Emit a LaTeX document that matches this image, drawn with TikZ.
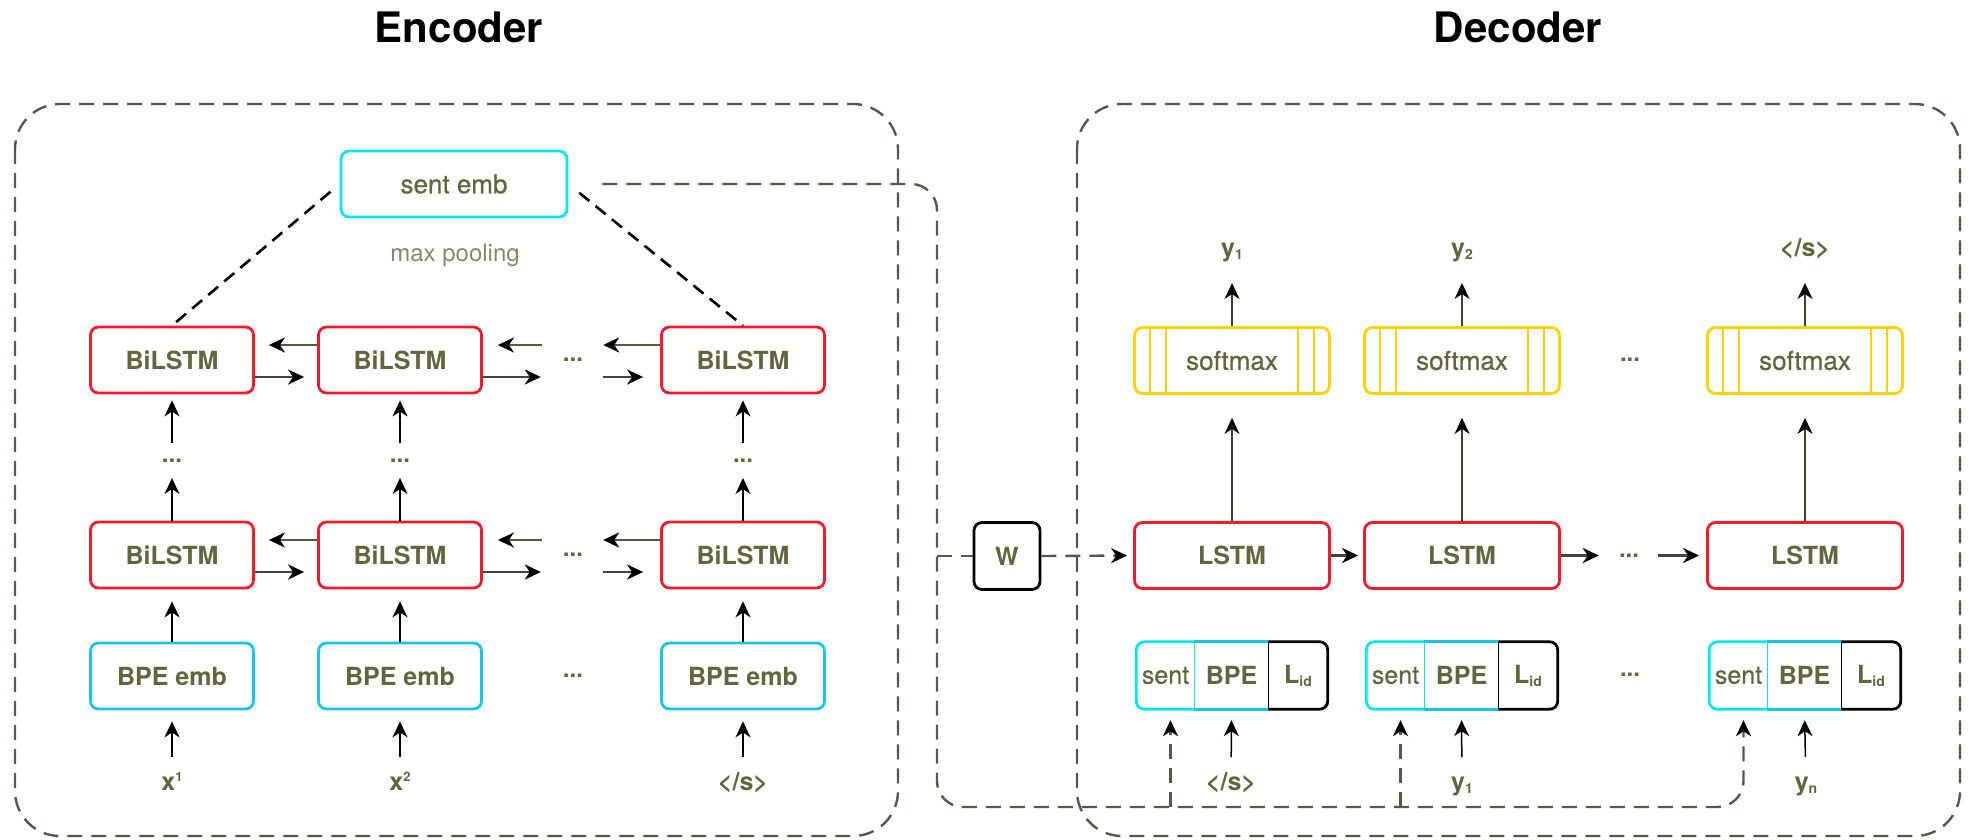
\documentclass[tikz,border=0pt]{standalone}
\usepackage{fontspec}
\setmainfont{TeX Gyre Heros}
\newfontfamily\medfont[FakeBold=0.7]{TeX Gyre Heros}
\usetikzlibrary{arrows.meta}
\definecolor{txt}{RGB}{100,100,62}
\definecolor{ltxt}{RGB}{135,135,105}
\definecolor{lred}{RGB}{245,25,45}
\definecolor{lcyan}{RGB}{0,232,232}
\definecolor{lblue}{RGB}{25,195,240}
\definecolor{lyellow}{RGB}{255,210,0}
\definecolor{dgray}{RGB}{85,90,72}
\definecolor{larrc}{RGB}{75,100,55}
\definecolor{rarrc}{RGB}{65,70,58}
\definecolor{dolive}{RGB}{60,66,42}
\newcommand\mysub[1]{\raisebox{-3pt}{\fontsize{14}{14}\selectfont #1}}
\newcommand\mysup[1]{\raisebox{9pt}{\fontsize{13}{13}\selectfont #1}}
\begin{document}
\begin{tikzpicture}[x=1pt,y=-1pt,
  >={Stealth[length=16pt,width=15pt,inset=5pt,color=black]},
  bx/.style={rectangle, rounded corners=8pt, line width=2.8pt, minimum width=163pt, minimum height=66pt, inner sep=0pt, text=txt, font=\fontsize{25}{30}\selectfont\bfseries},
  redbx/.style={bx, draw=lred},
  bluebx/.style={bx, draw=lblue},
  cyanbx/.style={bx, draw=lcyan, font=\fontsize{26}{30}\selectfont\medfont},
  yelbx/.style={bx, draw=lyellow, minimum width=195pt, font=\fontsize{26}{30}\selectfont\medfont},
  prt/.style={rectangle, minimum height=67pt, inner sep=0pt, text=txt},
  lbl/.style={anchor=base, text=txt, inner sep=0pt, font=\fontsize{25}{30}\selectfont\bfseries},
  dotnode/.style={text=txt, inner sep=0pt, minimum width=60pt, font=\fontsize{24}{24}\selectfont\bfseries},
  varr/.style={->, line width=1.5pt, draw=black},
  dvarr/.style={->, line width=1.5pt, draw=dolive},
  larr/.style={->, line width=2.6pt, draw=larrc},
  rarr/.style={->, line width=2.6pt, draw=rarrc},
  framebox/.style={draw=dgray, line width=2.4pt, dash pattern=on 15pt off 9pt, rounded corners=45pt},
  conn/.style={draw=dgray, line width=2.4pt, dash pattern=on 15pt off 9pt},
  pool/.style={draw=black, line width=2.6pt, dash pattern=on 13pt off 8pt},
  ttl/.style={font=\fontsize{42}{48}\selectfont\bfseries, inner sep=0pt}
]
\useasboundingbox (0,0) rectangle (1970,839);

% titles and frames
\node[ttl] (enc) at (459,27) {Encoder};
\node[ttl] (dec) at (1518,27) {Decoder};
\draw[framebox] (15,104) rectangle (898,836);
\draw[framebox] (1077,104) rectangle (1960,836);

% ---------------- Encoder ----------------
\node[cyanbx, minimum width=226pt] (se) at (454,184) {sent emb};
\node[anchor=base, text=ltxt, inner sep=0pt, font=\fontsize{24}{28}\selectfont] (mp) at (455,261) {max pooling};

\foreach \i/\x in {1/172,2/400,3/743} {
  \node[redbx] (bt\i) at (\x,360) {BiLSTM};
  \node[dotnode] (ev\i) at (\x,461) {...};
  \node[redbx] (bl\i) at (\x,555) {BiLSTM};
  \node[bluebx] (be\i) at (\x,676) {BPE emb};
}
\node[lbl] (lx1) at (172,790) {x\mysup{1}};
\node[lbl] (lx2) at (400,790) {x\mysup{2}};
\node[lbl] (lx3) at (743,790) {</s>};

\node[dotnode] (eh1) at (573,360) {...};
\node[dotnode] (eh2) at (573,555) {...};
\node[dotnode] (eh3) at (573,676) {...};

\foreach \i in {1,2,3} {
  \draw[varr, shorten <=33pt, shorten >=11pt] (lx\i.base) -- (be\i.south);
  \draw[varr, shorten >=12pt] (be\i.north) -- (bl\i.south);
  \draw[varr, shorten >=17pt] (bl\i.north) -- (ev\i.center);
  \draw[varr, shorten <=18pt, shorten >=6pt] (ev\i.center) -- (bt\i.south);
}

\foreach \r/\d in {bt/eh1, bl/eh2} {
  \draw[rarr, shorten >=13pt] ([yshift=-17pt]\r1.east) -- ([yshift=-17pt]\r2.west);
  \draw[larr, shorten >=14pt] ([yshift=15pt]\r2.west) -- ([yshift=15pt]\r1.east);
  \draw[rarr, shorten >=2pt] ([yshift=-17pt]\r2.east) -- ([yshift=-17pt]\d.west);
  \draw[larr, shorten <=1pt, shorten >=15pt] ([yshift=15pt]\d.west) -- ([yshift=15pt]\r2.east);
  \draw[rarr, shorten >=17pt] ([yshift=-17pt]\d.east) -- ([yshift=-17pt]\r3.west);
  \draw[larr] ([yshift=15pt]\r3.west) -- ([yshift=15pt]\d.east);
}

\draw[pool, shorten <=12pt] (se.west) -- (bt1.north);
\draw[pool, shorten <=14pt] (se.east) -- (bt3.north);

% ---------------- Decoder ----------------
\node[lbl] (ly1) at (1232,256) {y\mysub{1}};
\node[lbl] (ly2) at (1462,256) {y\mysub{2}};
\node[lbl] (ly3) at (1805,256) {</s>};
\node[lbl] (li1) at (1231,790) {</s>};
\node[lbl] (li2) at (1462,790) {y\mysub{1}};
\node[lbl] (li3) at (1806,790) {y\mysub{n}};

\foreach \i/\x in {1/1232,2/1462,3/1805} {
  \node[yelbx] (sm\i) at (\x,360.5) {softmax};
  \draw[lyellow, line width=2pt]
    ([xshift=17pt]sm\i.north west) -- ([xshift=17pt]sm\i.south west)
    ([xshift=33pt]sm\i.north west) -- ([xshift=33pt]sm\i.south west)
    ([xshift=-17pt]sm\i.north east) -- ([xshift=-17pt]sm\i.south east)
    ([xshift=-33pt]sm\i.north east) -- ([xshift=-33pt]sm\i.south east);
  \node[redbx, minimum width=195pt] (ls\i) at (\x,555.5) {LSTM};
  \node[prt, minimum width=58pt, font=\fontsize{25}{30}\selectfont\medfont] (cs\i) at (\x-66.5,675.5) {sent};
  \node[prt, minimum width=74pt, font=\fontsize{25}{30}\selectfont\bfseries] (cb\i) at (\x-0.5,675.5) {BPE};
  \node[prt, minimum width=59pt, font=\fontsize{25}{30}\selectfont\bfseries] (cl\i) at (\x+66,675.5) {L\mysub{id}};
  \draw[lcyan, line width=2.8pt, rounded corners=8pt] (cs\i.north east) -- (cs\i.north west) -- (cs\i.south west) -- (cs\i.south east);
  \draw[lcyan, line width=1.5pt] (cs\i.north east) -- (cs\i.south east);
  \draw[lblue, line width=2.8pt] (cb\i.north west) -- (cb\i.north east) (cb\i.south west) -- (cb\i.south east);
  \draw[black, line width=2.8pt, rounded corners=8pt] (cl\i.north west) -- (cl\i.north east) -- (cl\i.south east) -- (cl\i.south west);
  \draw[black, line width=1.5pt] (cl\i.north west) -- (cl\i.south west);
  \coordinate (t\i) at ([xshift=5pt]cs\i.south);
  \draw[dvarr, shorten >=23pt] (ls\i.north) -- (sm\i.south);
  \draw[dvarr, shorten >=27pt] (sm\i.north) -- (ly\i.base);
  \draw[varr, shorten <=33pt, shorten >=11pt] (li\i.base) -- (cb\i.south);
}

\node[dotnode, minimum width=58pt] (dh1) at (1630,360) {...};
\node[dotnode, minimum width=58pt] (dh2) at (1629,555.5) {...};
\node[dotnode, minimum width=58pt] (dh3) at (1630,675) {...};

\draw[rarr, shorten >=5pt] (ls1.east) -- (ls2.west);
\draw[rarr, shorten >=1pt] (ls2.east) -- (dh2.west);
\draw[rarr, shorten >=7pt] (dh2.east) -- (ls3.west);

% ---------------- W and connections ----------------
\node[bx, draw=black, minimum width=66pt, minimum height=67pt] (w) at (1007,556) {W};
\coordinate (bus) at (937,807);
\draw[conn, ->, rounded corners=26pt, shorten >=11pt] ([xshift=34pt]se.east) -| (bus) -- (bus -| t3) -- (t3);
\draw[conn, ->, shorten >=11pt] (bus -| t1) -- (t1);
\draw[conn, ->, shorten >=11pt] (bus -| t2) -- (t2);
\draw[conn] (bus |- w.west) -- (w.west);
\draw[conn, ->, shorten >=6pt] (w.east) -- (ls1.west);
\end{tikzpicture}
\end{document}
